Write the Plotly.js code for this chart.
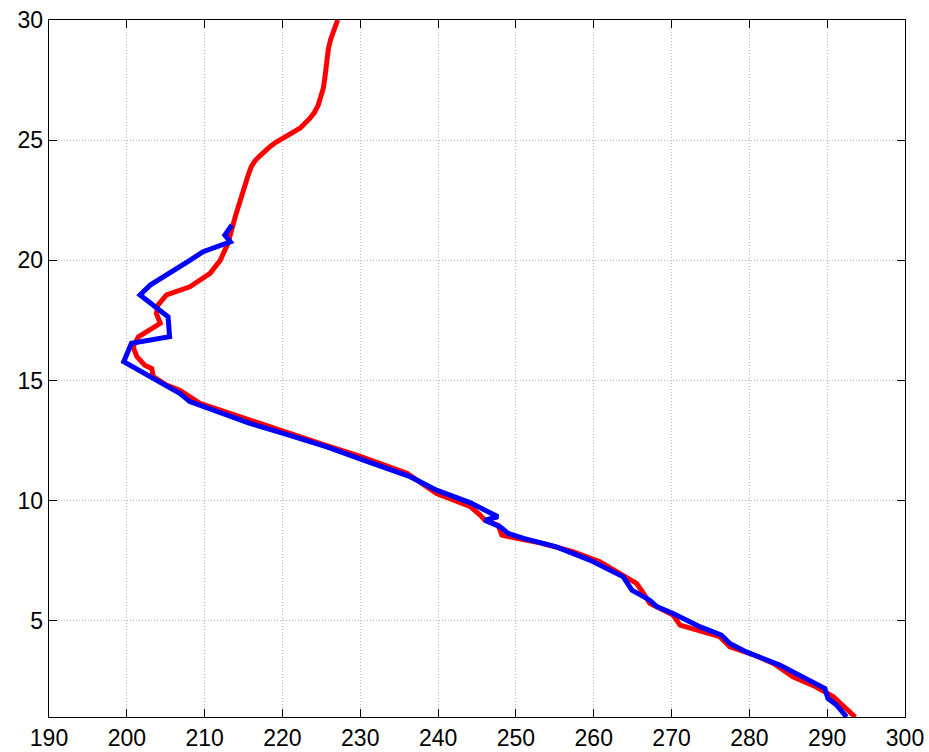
<!DOCTYPE html>
<html><head><meta charset="utf-8">
<script src="https://cdn.plot.ly/plotly-3.0.1.min.js"></script>
<style>html,body{margin:0;padding:0;background:#fff}</style>
</head><body>
<div id="chart" style="width:929px;height:752px"></div>
<script>
// Red profile (x = temperature-like value, y = altitude)
const redX = [227.1,226.6,226.2,225.9,225.7,225.6,225.45,225.25,225.0,224.6,224.1,223.5,222.25,221.1,220.1,219.1,218.4,217.7,217.1,216.5,216.0,215.6,215.3,214.8,214.0,213.5,213.0,212.0,210.7,208.1,205.1,204.0,203.8,204.3,203.0,201.5,200.8,201.3,202.3,203.2,203.4,205.1,206.8,207.9,209.4,214.5,220.1,224.8,230.0,236.0,239.8,244.1,245.4,246.0,247.7,248.2,250.1,253.1,257.4,260.8,263.0,265.5,266.4,267.2,270.2,271.1,276.2,277.5,280.1,283.1,285.6,288.6,290.8,292.5,293.6];
const redY = [30.0,29.6,29.2,28.8,28.4,28.0,27.6,27.16,26.8,26.46,26.15,25.9,25.5,25.3,25.1,24.9,24.73,24.56,24.35,24.15,23.9,23.55,23.2,22.72,21.89,21.33,20.71,20.0,19.46,18.9,18.56,18.14,17.79,17.38,17.1,16.82,16.4,15.99,15.64,15.5,15.16,14.81,14.6,14.35,14.05,13.5,12.88,12.39,11.84,11.14,10.3,9.76,9.4,9.19,8.98,8.57,8.43,8.25,7.87,7.46,7.04,6.56,6.14,5.73,5.24,4.82,4.34,3.92,3.64,3.23,2.67,2.25,1.84,1.36,1.0];
// Blue profile
const blueX = [213.5,212.6,213.3,209.8,208.1,203.0,201.7,203.6,205.3,205.5,200.6,199.6,203.0,206.8,208.1,209.8,215.8,220.1,225.7,230.4,236.4,239.8,244.1,247.7,246.0,248.0,249.0,251.0,255.2,259.5,263.8,264.9,267.2,268.1,270.2,273.7,276.4,277.5,279.6,283.9,287.4,289.7,290.1,291.2,292.5];
const blueY = [21.47,21.05,20.77,20.36,20.0,18.97,18.56,18.07,17.65,16.82,16.55,15.78,15.16,14.47,14.12,13.91,13.22,12.8,12.24,11.69,11.0,10.44,9.92,9.33,9.19,8.91,8.64,8.43,8.08,7.53,6.83,6.28,5.86,5.59,5.31,4.75,4.41,4.06,3.71,3.16,2.6,2.19,1.77,1.5,1.0];
const xTicks = [190,200,210,220,230,240,250,260,270,280,290,300];
const yTicks = [5,10,15,20,25,30];

const axisCommon = {
  showline: true, linecolor: '#000', linewidth: 1.3, mirror: 'ticks',
  ticks: 'inside', ticklen: 8, tickwidth: 1, tickcolor: '#000',
  showgrid: true, gridcolor: '#b8b8b8', griddash: '1px,2px', gridwidth: 1,
  zeroline: false,
  tickfont: {family: 'Liberation Sans, Arial, sans-serif', size: 23, color: '#000'}
};

Plotly.newPlot('chart', [
  {x: redX, y: redY, mode: 'lines', line: {color: '#ff0000', width: 5}, hoverinfo: 'skip'},
  {x: blueX, y: blueY, mode: 'lines', line: {color: '#0000ff', width: 5}, hoverinfo: 'skip'}
], {
  width: 929, height: 752,
  margin: {l: 49, r: 24, t: 20, b: 35},
  paper_bgcolor: '#fff', plot_bgcolor: '#fff',
  showlegend: false,
  xaxis: Object.assign({}, axisCommon, {range: [190, 300], tickvals: xTicks, ticktext: xTicks.map(String)}),
  yaxis: Object.assign({}, axisCommon, {range: [1, 30], tickvals: yTicks, ticktext: yTicks.map(String)})
}, {staticPlot: true});
</script>
</body></html>
